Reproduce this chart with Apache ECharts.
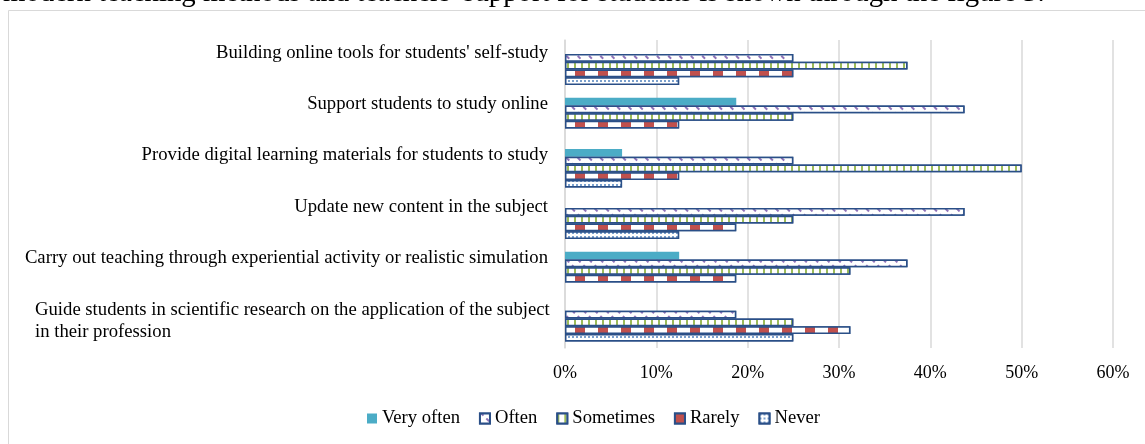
<!DOCTYPE html>
<html>
<head>
<meta charset="utf-8">
<script src="https://cdn.jsdelivr.net/npm/echarts@6/dist/echarts.min.js"></script>
<style>
  html, body { margin: 0; padding: 0; background: #fff; }
  #chart { width: 1145px; height: 444px; }
</style>
</head>
<body>
<div id="chart"></div>
<script>
const categories = [
  "Building online tools for students' self-study",
  "Support students to study online",
  "Provide digital learning materials for students to study",
  "Update new content in the subject",
  "Carry out teaching through experiential activity or realistic simulation",
  "Guide students in scientific research on the application of the subject\nin their profession"
];
const seriesNames = ["Very often", "Often", "Sometimes", "Rarely", "Never"];
const veryOften = [0, 18.75, 6.25, 0, 12.5, 0];
const often     = [25, 43.75, 25, 43.75, 37.5, 18.75];
const sometimes = [37.5, 25, 50, 25, 31.25, 25];
const rarely    = [25, 12.5, 12.5, 18.75, 18.75, 31.25];
const never     = [12.5, 0, 6.25, 12.5, 0, 25];
const xTicks = [0, 10, 20, 30, 40, 50, 60];
const headText = "modern teaching methods and teachers' support for students is shown through the figure 3.";

const FONT = "'Liberation Serif', 'Times New Roman', serif";
const BORDER = '#2A4F87';
const LABEL_SIZE = 18.7;

const decals = {
  often: { symbol: 'rect', symbolSize: 1, symbolKeepAspect: false, color: '#8E72B8', backgroundColor: '#ffffff',
           dashArrayX: [1.6, 5.4], dashArrayY: [3.5, 3.5], rotation: -Math.PI / 4 },
  sometimes: { symbol: 'rect', symbolSize: 1, symbolKeepAspect: false, color: '#9BBB59', backgroundColor: '#ffffff',
           dashArrayX: [2, 5], dashArrayY: [60, 0] },
  rarely: { symbol: 'rect', symbolSize: 1, symbolKeepAspect: false, color: '#C0504D', backgroundColor: '#ffffff',
           dashArrayX: [9.5, 12.2], dashArrayY: [60, 0] },
  never: { symbol: 'circle', symbolSize: 1, symbolKeepAspect: true, color: '#4F81BD', backgroundColor: '#ffffff',
           dashArrayX: [2, 2], dashArrayY: [2, 1.5] }
};

function noZeroBorder(data) {
  return data.map(function (v) {
    return v === 0 ? { value: v, itemStyle: { borderWidth: 0 } } : v;
  });
}

function patterned(name, data, decal) {
  return {
    name: name, type: 'bar', data: noZeroBorder(data),
    barGap: '0%', barCategoryGap: '25%',
    itemStyle: { color: '#ffffff', borderColor: BORDER, borderWidth: 1.5, decal: decal }
  };
}

const chart = echarts.init(document.getElementById('chart'), null, { renderer: 'canvas' });
chart.setOption({
  animation: false,
  backgroundColor: '#ffffff',
  textStyle: { fontFamily: FONT },
  graphic: [
    { type: 'rect', shape: { x: 8.5, y: 10.5, width: 1160, height: 460 },
      style: { fill: 'none', stroke: '#D9D9D9', lineWidth: 1 }, silent: true, z: -10 },
    { type: 'text', x: 3, y: 8,
      style: { text: headText, fontFamily: FONT, fontSize: 28.8, fill: '#000', verticalAlign: 'bottom' } }
  ],
  grid: { left: 565, right: 32, top: 40, bottom: 96, containLabel: false },
  legend: {
    left: 367, top: 409, padding: 0,
    itemWidth: 10, itemHeight: 10, itemGap: 19,
    icon: 'rect',
    textStyle: { fontFamily: FONT, fontSize: 18.6, color: '#000' },
    data: seriesNames
  },
  xAxis: {
    type: 'value', min: 0, max: 60, interval: 10,
    axisLine: { show: false }, axisTick: { show: false },
    splitLine: { lineStyle: { color: '#D9D9D9', width: 1.5 } },
    axisLabel: {
      margin: 16, fontFamily: FONT, fontSize: 18, color: '#000',
      formatter: function (v) { return xTicks.indexOf(v) >= 0 ? v + '%' : ''; }
    }
  },
  yAxis: {
    type: 'category', data: categories, inverse: true,
    axisLine: { show: true, lineStyle: { color: '#D9D9D9', width: 1.5 } },
    axisTick: { show: false },
    axisLabel: {
      margin: 17, align: 'right', fontFamily: FONT, fontSize: LABEL_SIZE, color: '#000',
      formatter: function (v) {
        const lines = v.split('\n');
        if (lines.length === 1) return '{s|' + v + '}';
        return '{g|' + lines[0] + '}\n{h|' + lines[1] + '}';
      },
      rich: {
        s: { fontFamily: FONT, fontSize: LABEL_SIZE, color: '#000', padding: [0, 0, 26, 0] },
        g: { fontFamily: FONT, fontSize: LABEL_SIZE, color: '#000', width: 513, align: 'left', lineHeight: 22 },
        h: { fontFamily: FONT, fontSize: LABEL_SIZE, color: '#000', width: 513, align: 'left', lineHeight: 23.6, padding: [0, 0, 1.6, 0] }
      }
    }
  },
  series: [
    { name: seriesNames[0], type: 'bar', data: veryOften, barGap: '0%', barCategoryGap: '25%',
      itemStyle: { color: '#4BACC6' } },
    patterned(seriesNames[1], often, decals.often),
    patterned(seriesNames[2], sometimes, decals.sometimes),
    patterned(seriesNames[3], rarely, decals.rarely),
    patterned(seriesNames[4], never, decals.never)
  ]
});
</script>
</body>
</html>
